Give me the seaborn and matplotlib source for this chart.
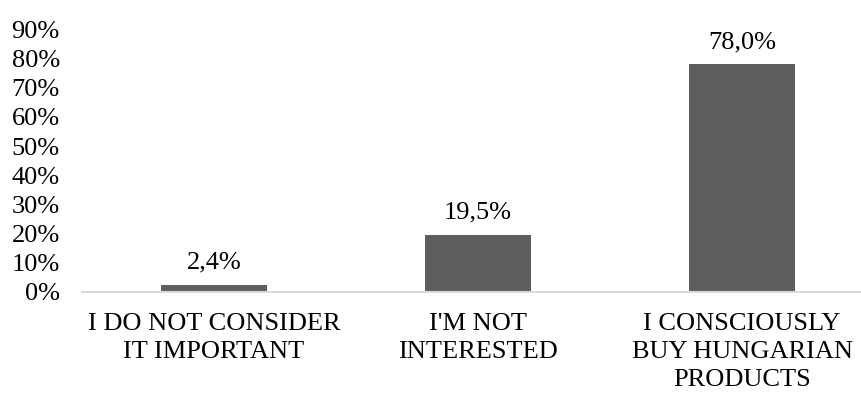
import matplotlib
matplotlib.use("Agg")
import matplotlib.pyplot as plt
import seaborn as sns
import pandas as pd
from matplotlib.ticker import FuncFormatter

categories = ["I DO NOT CONSIDER\nIT IMPORTANT", "I'M NOT\nINTERESTED", "I CONSCIOUSLY\nBUY HUNGARIAN\nPRODUCTS"]
values = [0.024, 0.195, 0.780]
value_labels = ["2,4%", "19,5%", "78,0%"]
yticks = [0.0, 0.1, 0.2, 0.3, 0.4, 0.5, 0.6, 0.7, 0.8, 0.9]

sns.set_theme(style="white")
plt.rcParams["font.family"] = ["Liberation Serif", "DejaVu Serif"]

df = pd.DataFrame({"category": categories, "value": values})

fig = plt.figure(figsize=(8.61, 3.94), dpi=100)
W, H = 861, 394
left, right = 82, 874
top, bottom = 29.5, 291.7
ax = fig.add_axes([left / W, 1 - bottom / H, (right - left) / W, (bottom - top) / H])

sns.barplot(data=df, x="category", y="value", color="#5e5e5e", width=0.4,
            saturation=1, ax=ax, edgecolor="none")

ax.set_xlim(-0.5, 2.5)
ax.set_ylim(0, 0.9)
ax.set_yticks(yticks)
ax.yaxis.set_major_formatter(FuncFormatter(lambda v, p: f"{v*100:.0f}%"))
ax.set_xlabel("")
ax.set_ylabel("")

for s in ["top", "right", "left"]:
    ax.spines[s].set_visible(False)
ax.spines["bottom"].set_color("#d9d9d9")
ax.spines["bottom"].set_linewidth(1.5)
ax.tick_params(axis="y", length=0, pad=16, labelsize=19, labelcolor="#000000")
ax.tick_params(axis="x", length=0, pad=15, labelsize=19, labelcolor="#000000")
for lab in ax.get_xticklabels():
    lab.set_linespacing(1.36)

for i, (v, t) in enumerate(zip(values, value_labels)):
    ax.annotate(t, (i, v), xytext=(0, 8), textcoords="offset points",
                ha="center", va="bottom", fontsize=19, color="#000000")

fig.savefig("out.png", dpi=100)
